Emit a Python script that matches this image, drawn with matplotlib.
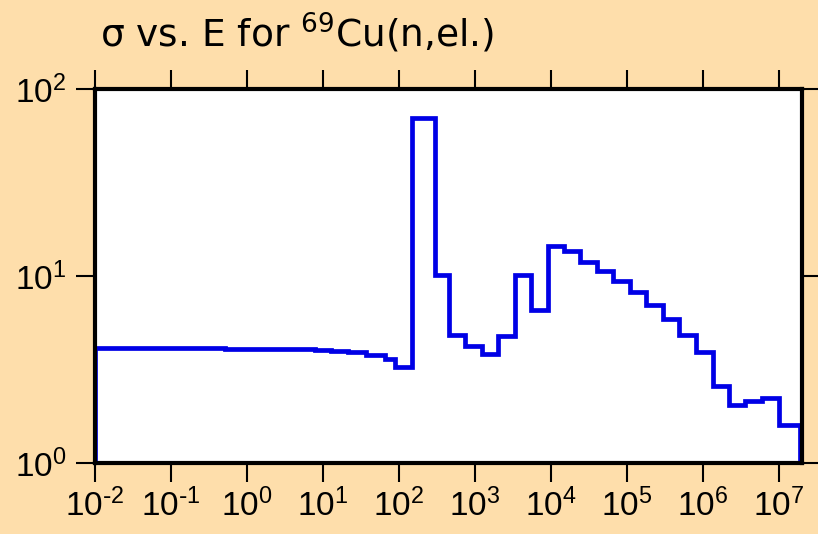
import numpy as np
import matplotlib
matplotlib.use('Agg')
import matplotlib.pyplot as plt

# Fronteiras dos grupos de energia (log10 de E em eV)
log_edges = [-2.0, -1.037, -0.292, 0.562, 0.891, 1.110, 1.329, 1.570, 1.811, 1.942,
             2.165, 2.477, 2.652, 2.862, 3.089, 3.300, 3.519, 3.738, 3.957, 4.167,
             4.382, 4.601, 4.820, 5.039, 5.250, 5.468, 5.687, 5.907, 6.125, 6.344,
             6.551, 6.774, 6.992, 7.275]

# Secao de choque (barns) por grupo
sigma = [4.12, 4.10, 4.08, 4.06, 4.02, 3.97, 3.90, 3.79, 3.61, 3.28,
         69.8, 10.15, 4.85, 4.20, 3.82, 4.75, 10.15, 6.60, 14.38, 13.63,
         11.95, 10.57, 9.35, 8.20, 7.02, 5.91, 4.85, 3.90, 2.59, 2.05,
         2.15, 2.24, 1.59]

x_exps = [-2, -1, 0, 1, 2, 3, 4, 5, 6, 7]
y_exps = [0, 1, 2]

BG = '#fedeab'

plt.rcParams['font.family'] = ['Liberation Sans', 'DejaVu Sans']
plt.rcParams['mathtext.default'] = 'regular'
plt.rcParams['axes.unicode_minus'] = False


def pow_label(e):
    # expoente com hifen curto, como no original
    s = str(e).replace('-', r'\text{-}')
    return '10$^{' + s + '}$'


edges = 10.0 ** np.array(log_edges)

fig = plt.figure(figsize=(8.18, 5.34), dpi=100, facecolor=BG)
ax = fig.add_axes([95 / 818, 1 - 463 / 534, 707 / 818, 374 / 534])
ax.set_facecolor('white')

ax.stairs(sigma, edges, baseline=1.0, color='#0000e6', linewidth=3.4)

ax.set_xscale('log')
ax.set_yscale('log')
ax.set_xlim(1e-2, 2e7)
ax.set_ylim(1, 100)
ax.set_xticks([10.0 ** e for e in x_exps], [pow_label(e) for e in x_exps])
ax.set_yticks([10.0 ** e for e in y_exps], [pow_label(e) for e in y_exps])
ax.minorticks_off()

ax.tick_params(which='major', direction='out', length=13.5, width=1.5,
               top=True, right=True, labelsize=24, colors='black')
ax.tick_params(axis='x', pad=5)
ax.tick_params(axis='y', pad=7)

for s in ax.spines.values():
    s.set_linewidth(3)
    s.set_color('black')

fig.text(100 / 818, 1 - 46.7 / 534, r'σ vs. E for $^{69}$Cu(n,el.)',
         fontsize=27, ha='left', va='baseline', family='DejaVu Sans')

fig.savefig('out.png', dpi=100, facecolor=BG)
